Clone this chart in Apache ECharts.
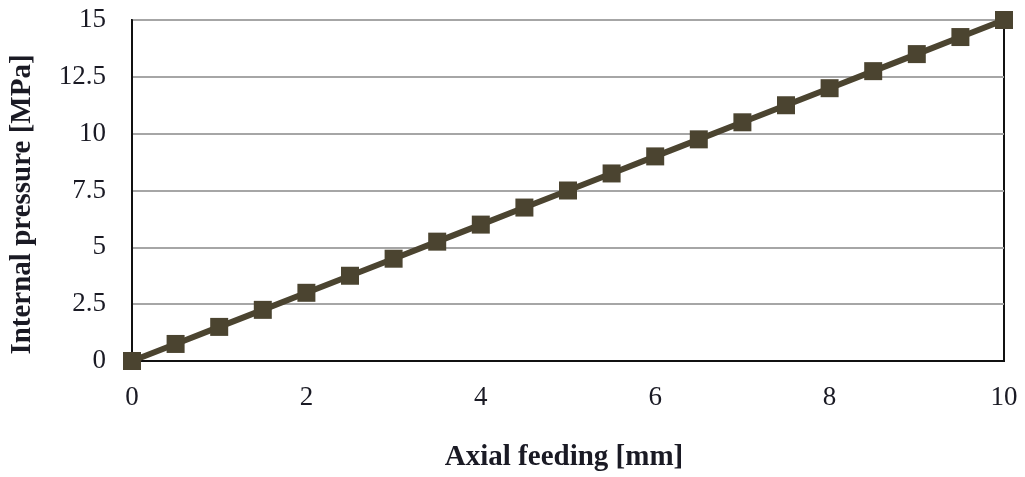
<!DOCTYPE html>
<html>
<head>
<meta charset="utf-8">
<script src="https://cdn.jsdelivr.net/npm/echarts@6/dist/echarts.min.js"></script>
<style>
  html, body { margin: 0; padding: 0; background: #ffffff; }
  #chart { width: 1025px; height: 477px; }
</style>
</head>
<body>
<div id="chart"></div>
<script>
// Axial feeding [mm] and the internal pressure reached [MPa]
const feeding = [0, 0.5, 1, 1.5, 2, 2.5, 3, 3.5, 4, 4.5, 5, 5.5, 6, 6.5, 7, 7.5, 8, 8.5, 9, 9.5, 10];
const pressure = [0, 0.75, 1.5, 2.25, 3, 3.75, 4.5, 5.25, 6, 6.75, 7.5, 8.25, 9, 9.75, 10.5, 11.25, 12, 12.75, 13.5, 14.25, 15];

const xTicks = [0, 2, 4, 6, 8, 10];
const yTicks = [0, 2.5, 5, 7.5, 10, 12.5, 15];

const serif = '"Liberation Serif", "DejaVu Serif", serif';
const ink = '#1a1a24';
const lineColor = '#4b4430';

const chart = echarts.init(document.getElementById('chart'));
chart.setOption({
  animation: false,
  backgroundColor: '#ffffff',
  grid: {
    left: 132, right: 21, top: 20, bottom: 114,
    show: true, borderColor: '#111111', borderWidth: 2, backgroundColor: 'transparent'
  },
  xAxis: {
    type: 'value',
    min: xTicks[0], max: xTicks[xTicks.length - 1], interval: 2,
    name: 'Axial feeding [mm]',
    nameLocation: 'middle', nameGap: 82,
    nameTextStyle: { fontFamily: serif, fontSize: 29, fontWeight: 'bold', color: ink, padding: [0, 8, 0, 0] },
    axisLine: { show: true, lineStyle: { color: '#111111', width: 2 } },
    axisTick: { show: false },
    splitLine: { show: false },
    axisLabel: { fontFamily: serif, fontSize: 27, color: ink, margin: 23 }
  },
  yAxis: {
    type: 'value',
    min: yTicks[0], max: yTicks[yTicks.length - 1], interval: 2.5,
    name: 'Internal pressure [MPa]',
    nameLocation: 'middle', nameGap: 95,
    nameTextStyle: { fontFamily: serif, fontSize: 29, fontWeight: 'bold', color: ink, padding: [0, 28, 0, 0] },
    axisLine: { show: true, lineStyle: { color: '#111111', width: 2 } },
    axisTick: { show: false },
    splitLine: { show: true, lineStyle: { color: '#a6a6a6', width: 2 } },
    axisLabel: { fontFamily: serif, fontSize: 27, color: ink, margin: 26 }
  },
  series: [{
    type: 'line',
    data: feeding.map((x, i) => [x, pressure[i]]),
    symbol: 'rect',
    symbolSize: 18,
    lineStyle: { color: lineColor, width: 6 },
    itemStyle: { color: lineColor, borderWidth: 0 },
    z: 5
  }]
});
</script>
</body>
</html>
